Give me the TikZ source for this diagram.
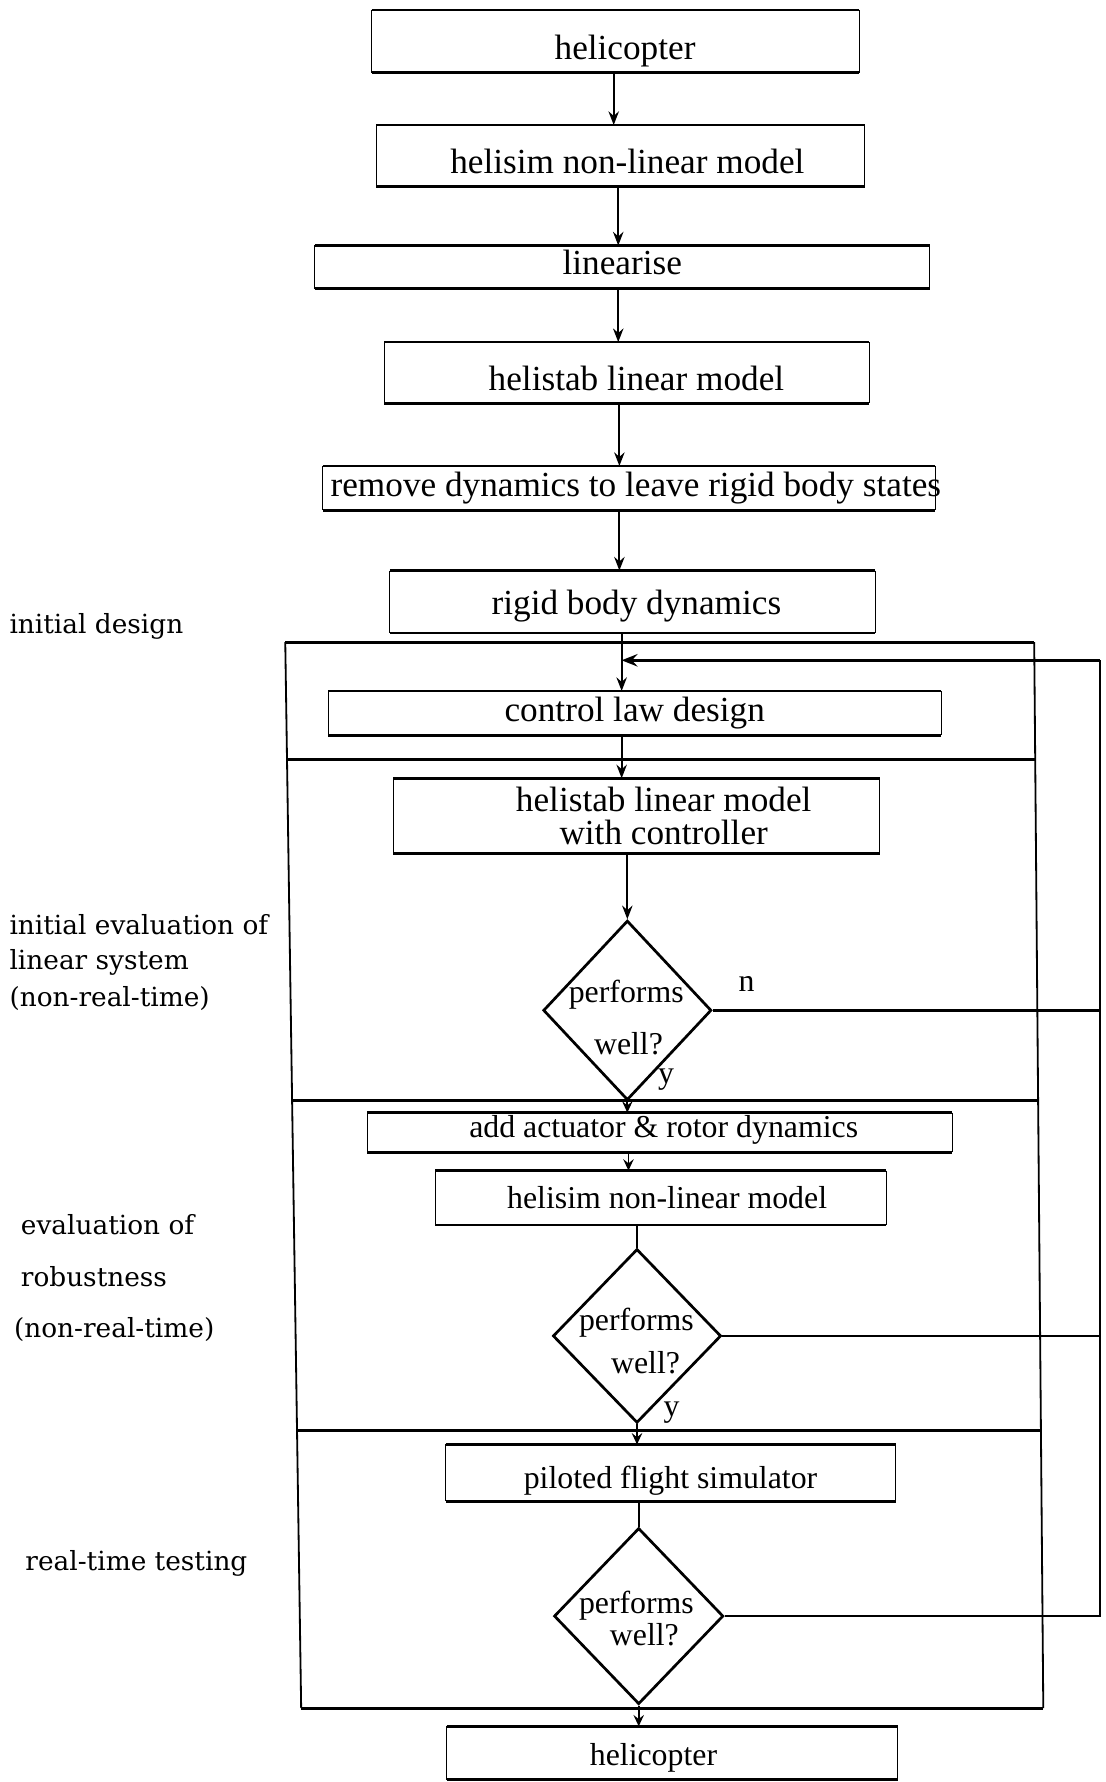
\documentclass[tikz,border=0pt]{standalone}
\usepackage{fontspec}
\setmainfont{Liberation Serif}
\newfontfamily\labfont{DejaVu Serif}
\usetikzlibrary{shapes.geometric,arrows.meta}
\newcommand\fA{\fontsize{15.5pt}{18.6pt}\selectfont}
\newcommand\fB{\fontsize{14pt}{16.8pt}\selectfont}
\newcommand\fL{\labfont\fontsize{11.6pt}{14pt}\selectfont}
\newcommand\tx[3]{\makebox[0pt]{\hspace*{#1}\hspace*{#1}\raisebox{#2}[\height][\depth]{#3}}}
\tikzset{
  box/.style={inner sep=0pt, outer sep=0pt,
    append after command={
      (\tikzlastnode.north west) edge[line width=1.1pt] (\tikzlastnode.north east)
      (\tikzlastnode.south west) edge[line width=1.1pt] (\tikzlastnode.south east)
      (\tikzlastnode.north west) edge[line width=0.45pt] (\tikzlastnode.south west)
      (\tikzlastnode.north east) edge[line width=0.45pt] (\tikzlastnode.south east)}},
  dia/.style={diamond, draw, line width=1.2pt, inner sep=0pt, minimum width=74pt, minimum height=78pt},
  arr/.style={-{Stealth[length=6pt,width=4.6pt,inset=2pt]}, line width=0.8pt},
  arrs/.style={-{Stealth[length=5pt,width=4.6pt,inset=1.8pt]}, line width=0.8pt},
  conn/.style={line width=0.8pt},
  fbline/.style={line width=1.1pt},
  frameh/.style={line width=1.4pt},
  framev/.style={line width=0.8pt},
  lab/.style={font=\fL, inner sep=0pt, anchor=base west},
  dtext/.style={font=\fB, inner sep=0pt}
}
\begin{document}
\begin{tikzpicture}[x=0.5pt, y=-0.5pt]
\useasboundingbox (0,0) rectangle (973,1568);

% column coordinates for vertical connectors
\coordinate (k1) at (540,0);
\coordinate (k2) at (544,0);
\coordinate (k3) at (545,0);
\coordinate (k4) at (547,0);
\coordinate (k5) at (553,0);

% boxes (upper part)
\node[box, minimum width=214.5pt, minimum height=27.5pt, font=\fA] (heliA) at (541.5,36.5) {\tx{4.25pt}{-4pt}{helicopter}};
\node[box, minimum width=215pt, minimum height=27pt, font=\fA] (simA) at (546,137) {\tx{3pt}{-2.5pt}{helisim non-linear model}};
\node[box, minimum width=270.5pt, minimum height=19pt, font=\fA] (lin) at (547.5,235) {\tx{0pt}{2pt}{linearise}};
\node[box, minimum width=213.5pt, minimum height=27pt, font=\fA] (stab) at (551.5,328) {\tx{4.25pt}{-2.5pt}{helistab linear model}};
\node[box, minimum width=269.5pt, minimum height=19.5pt, font=\fA] (rem) at (553.5,429.5) {\tx{3pt}{0pt}{remove dynamics to leave rigid body states}};
\node[box, minimum width=213.5pt, minimum height=27.5pt, font=\fA] (rigid) at (556.5,529.5) {\tx{1.75pt}{-2pt}{rigid body dynamics}};

% frame
\coordinate (frTL) at (251,565);
\coordinate (frTR) at (910,565);
\coordinate (frBR) at (918,1503);
\coordinate (frBL) at (265,1503);
\draw[framev] (frTL) -- (frBL);
\draw[framev] (frTR) -- (frBR);
\draw[frameh] (frTL) -- (frTR);
\draw[frameh] (frBL) -- (frBR);
\draw[frameh] (252.5,668) -- (911,668);
\draw[frameh] (257,968) -- (913.4,968);
\draw[frameh] (261.4,1259) -- (916,1259);

% boxes inside the frame
\node[box, minimum width=269.5pt, minimum height=19.5pt, font=\fA] (ctrl) at (558.5,627.5) {\tx{0pt}{0pt}{control law design}};
\node[box, minimum width=214pt, minimum height=28pt, font=\fA] (hlm) at (560,718) {\tx{12pt}{-1.5pt}{\begin{tabular}{@{}c@{}}helistab linear model\\[-4pt]with controller\end{tabular}}};

\node[dia, minimum height=79pt] (d1) at (552,889) {};
\node[dtext] (d1a) at (551,875) {performs};
\node[dtext] (d1b) at (553,918) {well?};
\node[dtext] (n1) at (657,866) {n};
\node[dtext] (y1) at (586,950) {y};

\node[box, minimum width=257.5pt, minimum height=17.5pt, font=\fB] (act) at (580.5,996.5) {\tx{1.75pt}{1.25pt}{add actuator \& rotor dynamics}};
\node[box, minimum width=198.5pt, minimum height=24pt, font=\fB] (simB) at (581.5,1054) {\tx{2.75pt}{0pt}{helisim non-linear model}};

\node[dia, minimum height=76.5pt] (d2) at (560.5,1175.5) {};
\node[dtext] (d2a) at (560,1164) {performs};
\node[dtext] (d2b) at (568,1199) {well?};
\node[dtext] (y2) at (591,1243) {y};

\node[box, minimum width=198pt, minimum height=25pt, font=\fB] (pil) at (590,1296) {\tx{0pt}{-3.5pt}{piloted flight simulator}};

\node[dia, minimum width=74.5pt, minimum height=77.5pt] (d3) at (562,1422) {};
\node[dtext] (d3a) at (560,1413) {performs};
\node[dtext] (d3b) at (567,1438) {well?};

\node[box, minimum width=198.5pt, minimum height=23.5pt, font=\fB] (heliB) at (591.5,1542.5) {\tx{-8.25pt}{-2pt}{helicopter}};

% connectors
\draw[arr] (heliA.south -| k1) -- (simA.north -| k1);
\draw[arr] (simA.south -| k2) -- (lin.north -| k2);
\draw[arr] (lin.south -| k2) -- (stab.north -| k2);
\draw[arr] (stab.south -| k3) -- (rem.north -| k3);
\draw[arr] (rem.south -| k3) -- (rigid.north -| k3);
\draw[arr] (rigid.south -| k4) -- (ctrl.north -| k4);
\draw[arr] (ctrl.south -| k4) -- (hlm.north -| k4);
\draw[arr] (hlm.south -| d1.north) -- (d1.north);
\draw[arrs] (d1.south) -- (d1.south |- act.north);
\draw[arrs] (act.south -| k5) -- (simB.north -| k5);
\draw[conn] (simB.south -| d2.north) -- (d2.north);
\draw[arrs] (d2.south) -- (d2.south |- pil.north);
\draw[conn] (pil.south -| d3.north) -- (d3.north);
\draw[arrs] (d3.south) -- (d3.south |- heliB.north);

% feedback path
\coordinate (fbtop) at (968,581);
\coordinate (fbend) at (547,581);
\draw[fbline] (d1.east) -- (d1.east -| fbtop);
\draw[fbline] (d2.east) -- (d2.east -| fbtop);
\draw[fbline] (d3.east) -- (d3.east -| fbtop) -- (fbtop);
\draw[fbline, -{Stealth[length=7pt,width=5.5pt,inset=2.5pt]}] (fbtop) -- (fbend);

% phase labels
\node[lab] (l1) at (8,557) {initial design};
\node[lab] (l2a) at (8,822) {initial evaluation of};
\node[lab] (l2b) at (8,853) {linear system};
\node[lab] (l2c) at (8,886) {(non-real-time)};
\node[lab] (l3a) at (18,1086) {evaluation of};
\node[lab] (l3b) at (18,1132) {robustness};
\node[lab] (l3c) at (12,1177) {(non-real-time)};
\node[lab] (l4) at (22,1382) {real-time testing};
\end{tikzpicture}
\end{document}
